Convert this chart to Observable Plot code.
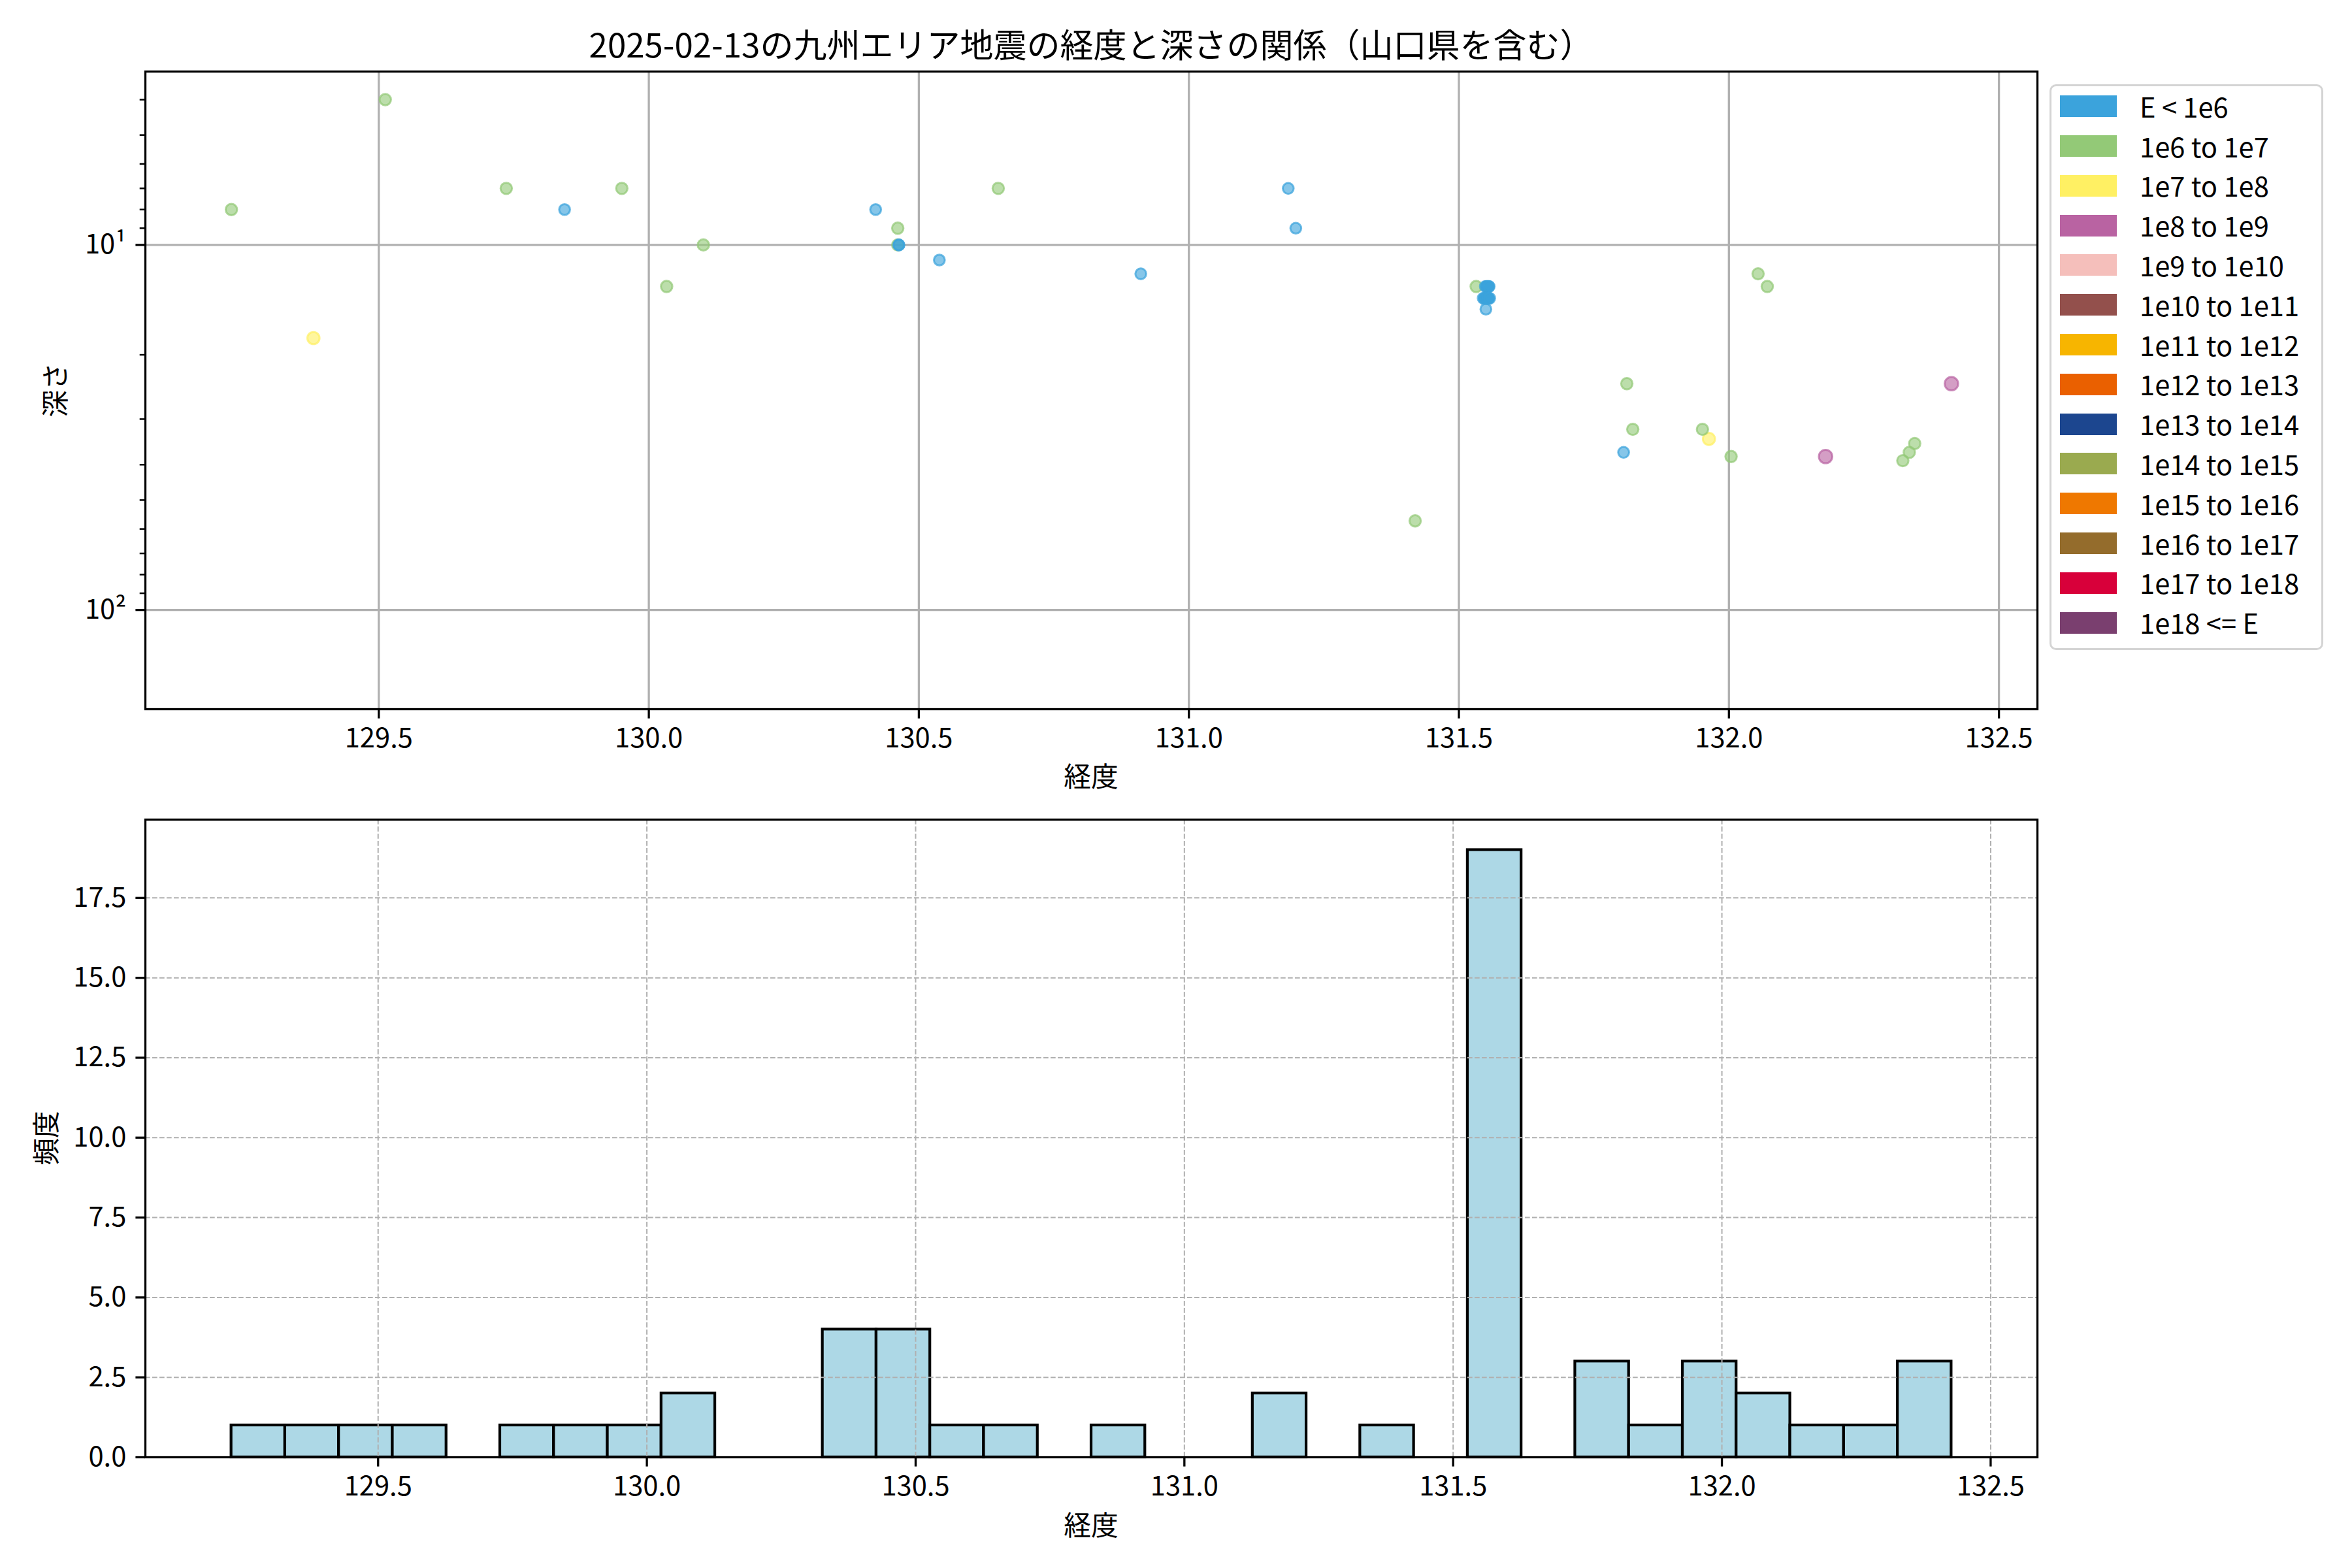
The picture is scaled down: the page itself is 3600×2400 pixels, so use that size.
<!DOCTYPE html>
<html><head><meta charset="utf-8">
<script src="https://cdn.jsdelivr.net/npm/d3@7"></script>
<script src="https://cdn.jsdelivr.net/npm/@observablehq/plot@0.6"></script>
<style>
html,body{margin:0;padding:0;background:#fff;}
#fig{position:relative;width:3600px;height:2400px;background:#fff;font-family:"Noto Sans CJK JP","Noto Sans",sans-serif;color:#000;overflow:hidden;}
.abs{position:absolute;white-space:nowrap;line-height:1;}
</style></head><body><div id="fig"></div>
<script>
// ---- data ----
const lon = [129.227,129.379,129.512,129.570,129.736,129.844,129.950,130.033,130.101,
  130.360,130.385,130.405,130.420,130.461,130.461,130.463,130.463,130.538,130.647,130.911,
  131.184,131.198,131.419,131.532,
  131.549,131.551,131.552,131.553,131.554,131.555,131.556,
  131.545,131.547,131.549,131.550,131.551,131.552,131.553,131.554,131.555,131.557,
  131.550,131.805,131.811,131.822,131.870,131.951,131.963,132.004,132.054,132.071,
  132.179,132.322,132.334,132.344,132.412];
const depth = [8,18,4,0,7,8,7,13,10,
  0,0,0,8,9,10,10,10,11,7,12,
  7,9,57,13,
  13,13,13,13,13,13,13,
  14,14,14,14,14,14,14,14,14,14,
  15,37,24,32,0,32,34,38,12,13,
  38,39,37,35,24];
const energyClass = [1,2,1,1,1,0,1,1,1,
  1,0,0,0,1,1,0,0,0,1,0,
  0,0,1,1,
  0,0,0,0,0,0,0,
  0,0,0,0,0,0,0,0,0,0,
  0,0,1,1,1,1,2,1,1,1,
  3,1,1,1,3];
const classLabels = ["E < 1e6","1e6 to 1e7","1e7 to 1e8","1e8 to 1e9","1e9 to 1e10","1e10 to 1e11",
  "1e11 to 1e12","1e12 to 1e13","1e13 to 1e14","1e14 to 1e15","1e15 to 1e16","1e16 to 1e17",
  "1e17 to 1e18","1e18 <= E"];
const classColors = ["#3ba3dc","#93c977","#fff063","#b963a2","#f5bfbb","#93504c","#f7b500",
  "#ea6000","#1c468f","#9aaa4f","#ef7800","#946c2c","#d8003a","#7a3f6f"];
const lonTicks = [129.5,130.0,130.5,131.0,131.5,132.0,132.5];
const depthMajorTicks = [10,100];
const depthMajorLabels = ["10¹","10²"];
const depthMinorTicks = [4,5,6,7,8,9,20,30,40,50,60,70,80,90];
const countTicks = [0,2.5,5,7.5,10,12.5,15,17.5];
const titleText = "2025-02-13の九州エリア地震の経度と深さの関係（山口県を含む）";
const xLabel = "経度";
const yLabelTop = "深さ";
const yLabelBottom = "頻度";

// ---- layout ----
const W = 3600, FS = 41.7;
const font = '"Noto Sans CJK JP","Noto Sans",sans-serif';
const fig = document.getElementById("fig");
const ML = 222, MR = 482;

const events = lon.map((x, i) => ({lon: x, depth: depth[i], k: energyClass[i], cls: classLabels[energyClass[i]]}));
const rOf = k => [8.3, 8.7, 9.3, 10.3][k] ?? 10;
const drawRank = k => k === 0 ? 100 : k;
const visible = events.filter(d => d.depth > 0).sort((a, b) => drawRank(a.k) - drawRank(b.k));

// matplotlib-style 5% margins
const pad = ([a, b]) => [a - 0.05 * (b - a), b + 0.05 * (b - a)];
const xDomainTop = pad(d3.extent(lon));

const axisStyle = {tickSize: 14.6, tickPadding: 14.6, strokeWidth: 3.3, fontSize: FS, label: null};

const topPlot = Plot.plot({
  width: W, height: 1200, marginLeft: ML, marginRight: MR, marginTop: 109, marginBottom: 115,
  style: {fontFamily: font, fontSize: FS + "px", background: "transparent", overflow: "visible"},
  x: {domain: xDomainTop, label: null},
  y: {type: "log", domain: [3.35, 187], reverse: true, label: null},
  color: {domain: classLabels, range: classColors},
  r: {type: "identity"},
  marks: [
    Plot.gridX(lonTicks, {stroke: "#b0b0b0", strokeOpacity: 1, strokeWidth: 3.3}),
    Plot.gridY(depthMajorTicks, {stroke: "#b0b0b0", strokeOpacity: 1, strokeWidth: 3.3}),
    Plot.dot(visible, {x: "lon", y: "depth", r: d => rOf(d.k), fill: "cls", stroke: "cls",
      fillOpacity: 0.62, strokeOpacity: 0.72, strokeWidth: 3}),
    Plot.axisX(lonTicks, {...axisStyle, tickFormat: d3.format(".1f")}),
    Plot.axisY(depthMajorTicks, {...axisStyle, tickFormat: d => depthMajorLabels[depthMajorTicks.indexOf(d)]}),
    Plot.axisY(depthMinorTicks, {tickSize: 8.3, strokeWidth: 2.5, tickFormat: () => "", label: null}),
    Plot.frame({stroke: "black", strokeWidth: 3.3})
  ]
});

const lonMin = d3.min(lon);
const binWidth = 0.1;
const nBins = Math.ceil((d3.max(lon) - lonMin) / binWidth);
const thresholds = d3.range(nBins + 1).map(i => lonMin + i * binWidth);
const xDomainBottom = pad([thresholds[0], thresholds[nBins]]);

const dashGrid = {stroke: "#b0b0b0", strokeOpacity: 1, strokeWidth: 2, strokeDasharray: "7.7,3.3"};
const bottomPlot = Plot.plot({
  width: W, height: 1200, marginLeft: ML, marginRight: MR, marginTop: 54, marginBottom: 170,
  style: {fontFamily: font, fontSize: FS + "px", background: "transparent", overflow: "visible"},
  x: {domain: xDomainBottom, label: null},
  y: {domain: [0, 19.95], label: null},
  marks: [
    Plot.rectY(events, Plot.binX({y: "count"}, {x: "lon", thresholds,
      domain: [thresholds[0], thresholds[nBins]],
      fill: "#add8e6", stroke: "black", strokeWidth: 4.2, inset: 0})),
    Plot.gridX(lonTicks, dashGrid),
    Plot.gridY(countTicks, dashGrid),
    Plot.axisX(lonTicks, {...axisStyle, tickFormat: d3.format(".1f")}),
    Plot.axisY(countTicks, {...axisStyle, tickFormat: d3.format(".1f")}),
    Plot.frame({stroke: "black", strokeWidth: 3.3})
  ]
});

function place(el, top) {
  const wrap = document.createElement("div");
  wrap.style.position = "absolute"; wrap.style.left = "0px"; wrap.style.top = top + "px";
  wrap.appendChild(el); fig.appendChild(wrap);
}
place(topPlot, 0);
place(bottomPlot, 1200);

function label(text, cx, cy, size, rotate) {
  const d = document.createElement("div");
  d.className = "abs";
  d.textContent = text;
  d.style.left = cx + "px"; d.style.top = cy + "px";
  d.style.fontSize = size + "px";
  d.style.transform = "translate(-50%,-50%)" + (rotate ? " rotate(-90deg)" : "");
  fig.appendChild(d);
}
const cxAxes = (ML + (W - MR)) / 2;
label(titleText, cxAxes, 66, 51);
label(xLabel, cxAxes, 1187, FS);
label(xLabel, cxAxes, 2333, FS);
label(yLabelTop, 83, 597, FS, true);
label(yLabelBottom, 69, 1742, FS, true);

// legend
const lg = document.createElement("div");
lg.style.cssText = "position:absolute;left:3137px;top:129px;width:419px;height:866px;box-sizing:border-box;border:3.3px solid #d4d4d4;border-radius:10px;background:rgba(255,255,255,0.8);";
classLabels.forEach((t, i) => {
  const cy = 30.7 + i * 60.8;
  const p = document.createElement("div");
  p.style.cssText = `position:absolute;left:13px;top:${cy - 16.5}px;width:87px;height:33px;background:${classColors[i]};`;
  lg.appendChild(p);
  const s = document.createElement("div");
  s.className = "abs";
  s.textContent = t;
  s.style.cssText += `left:135px;top:${cy}px;font-size:${FS}px;transform:translateY(-50%);`;
  lg.appendChild(s);
});
fig.appendChild(lg);
</script>
</body></html>
